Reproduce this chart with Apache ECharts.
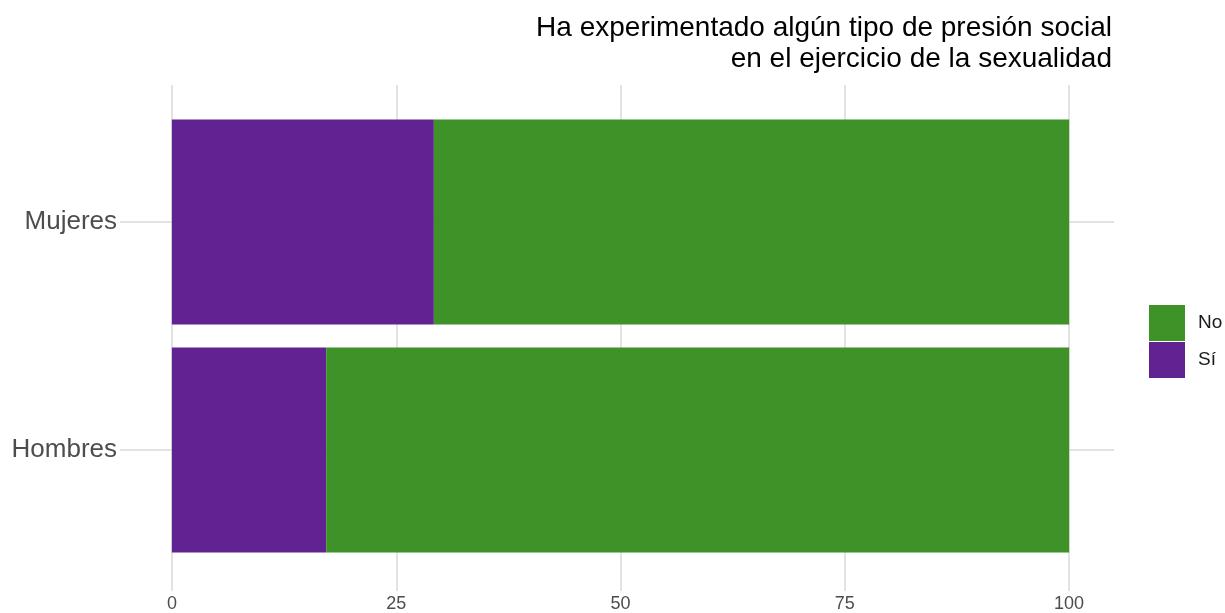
<!DOCTYPE html>
<html>
<head>
<meta charset="utf-8">
<script src="https://cdn.jsdelivr.net/npm/echarts@6/dist/echarts.min.js"></script>
<style>
  html, body { margin: 0; padding: 0; background: #fff; }
  #main { width: 1225px; height: 613px; }
</style>
</head>
<body>
<div id="main"></div>
<script>
var groups = ['Hombres', 'Mujeres'];
var siValues = [17.2, 29.2];
var noValues = [82.8, 70.8];
var xTicks = [0, 25, 50, 75, 100];
var titleLines = ['Ha experimentado algún tipo de presión social', 'en el ejercicio de la sexualidad'];

var FONT = 'Liberation Sans, Arial, Helvetica, sans-serif';
var GRID_COLOR = '#dadada';

var myChart = echarts.init(document.getElementById('main'));

// horizontal gridlines at each category centre, across the expanded x range
var hLines = groups.map(function (g) {
  return [{ coord: [-5, g] }, { coord: [105, g] }];
});

// one text element per title line so both lines are right-aligned
var titleGraphics = titleLines.map(function (t, i) {
  return {
    type: 'text',
    right: 113,
    top: 14 + i * 31,
    style: { text: t, fontSize: 28, fill: '#000', fontFamily: FONT }
  };
});

var option = {
  animation: false,
  textStyle: { fontFamily: FONT },
  graphic: titleGraphics,
  legend: {
    data: ['No', 'Sí'],
    orient: 'vertical',
    left: 1149,
    top: 305,
    padding: 0,
    itemWidth: 36,
    itemHeight: 36,
    itemGap: 1,
    icon: 'rect',
    textStyle: { fontSize: 19, color: '#1a1a1a', padding: [0, 0, 0, 8], fontFamily: FONT }
  },
  grid: [
    // background grid: vertical gridlines and x labels
    { left: 172, right: 156, top: 85, bottom: 26 },
    // bars grid: includes ggplot's 5% expansion on x
    { left: 127, right: 111, top: 108, bottom: 49 }
  ],
  xAxis: [
    {
      gridIndex: 0,
      type: 'value',
      min: 0,
      max: 100,
      interval: 12.5,
      axisLine: { show: false },
      axisTick: {
        show: true,
        length: 5,
        customValues: xTicks,
        lineStyle: { color: GRID_COLOR, width: 1.5 }
      },
      axisLabel: {
        customValues: xTicks,
        fontSize: 18,
        color: '#4d4d4d',
        margin: 9
      },
      splitLine: { show: true, lineStyle: { color: GRID_COLOR, width: 1.5 } }
    },
    {
      gridIndex: 1,
      type: 'value',
      min: -5,
      max: 105,
      show: false
    }
  ],
  yAxis: [
    { gridIndex: 0, type: 'value', show: false },
    {
      gridIndex: 1,
      type: 'category',
      data: groups,
      axisLine: { show: false, onZero: false },
      axisTick: { show: true, alignWithLabel: true, length: 7, lineStyle: { color: GRID_COLOR, width: 1.5 } },
      axisLabel: { fontSize: 26, color: '#4d4d4d', margin: 10 },
      splitLine: { show: false }
    }
  ],
  series: [
    {
      // horizontal gridlines only
      name: 'grid',
      type: 'line',
      xAxisIndex: 1,
      yAxisIndex: 1,
      data: [],
      z: 1,
      markLine: {
        silent: true,
        z: 0,
        symbol: 'none',
        label: { show: false },
        lineStyle: { color: GRID_COLOR, width: 1.5, type: 'solid' },
        data: hLines
      }
    },
    {
      name: 'Sí',
      type: 'bar',
      stack: 'total',
      xAxisIndex: 1,
      yAxisIndex: 1,
      barCategoryGap: '10%',
      itemStyle: { color: '#612391' },
      z: 3,
      data: siValues
    },
    {
      name: 'No',
      type: 'bar',
      stack: 'total',
      xAxisIndex: 1,
      yAxisIndex: 1,
      barCategoryGap: '10%',
      itemStyle: { color: '#3f9228' },
      z: 3,
      data: noValues
    }
  ]
};

myChart.setOption(option);
</script>
</body>
</html>
